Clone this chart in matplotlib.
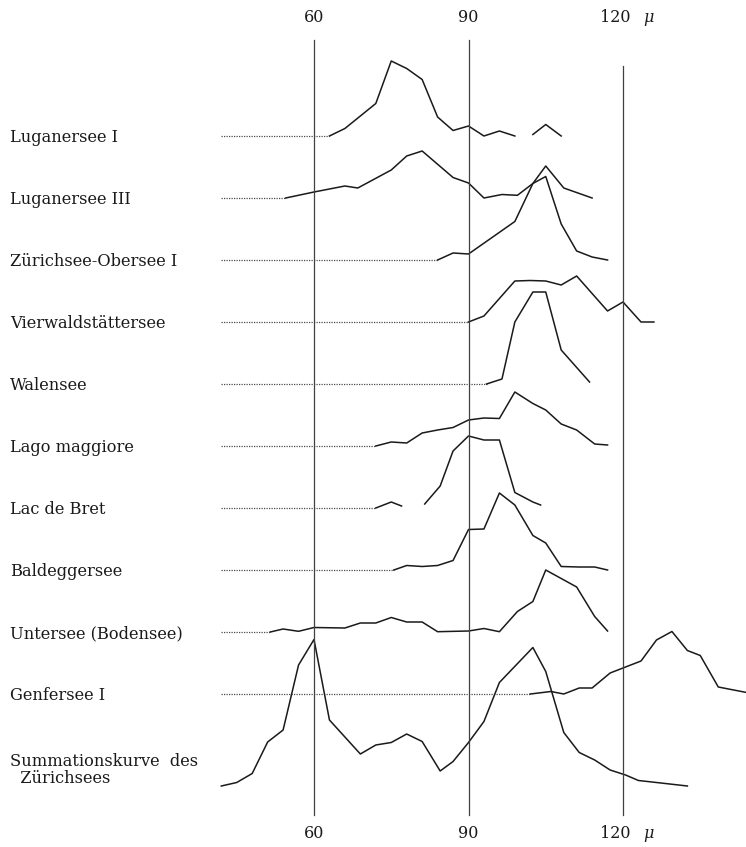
import numpy as np
import matplotlib
matplotlib.use("Agg")
import matplotlib.pyplot as plt
import matplotlib.transforms as mtransforms

########## data ###################################################################################
# x = Länge in mu, h = Häufigkeit (relative Höhe über der Nulllinie)

names = ["Luganersee I", "Luganersee III", "Zürichsee-Obersee I", "Vierwaldstättersee",
         "Walensee", "Lago maggiore", "Lac de Bret", "Baldeggersee", "Untersee (Bodensee)",
         "Genfersee I", "Summationskurve  des\n  Zürichsees"]

x_lug1 = [63, 66, 72, 75, 78, 81, 84, 87, 90, 93, 96, 99, np.nan, 102.5, 105, 108]
h_lug1 = [0, 7.5, 32.5, 75, 67.5, 56.5, 19, 5.5, 10, 0, 5, 0, np.nan, 1.5, 11.5, 0]

x_lug3 = [54.5, 60, 66, 68.5, 75, 78, 81, 87, 90, 93, 96.5, 99.5, 102.5, 105, 108.5, 114]
h_lug3 = [0, 6, 12, 10, 28, 42, 47, 20.5, 15, 0, 3.5, 2.7, 14.5, 32, 10, 0]

x_zob = [84, 87, 90, 99, 102.5, 105, 108, 111, 114, 117]
h_zob = [0, 7, 6, 38.5, 76.5, 83.5, 36, 9, 3, 0]

x_vws = [90, 93, 99, 102, 105, 108, 111, 117, 120, 123.5, 126]
h_vws = [0, 6, 41, 41.5, 41, 37, 46, 11, 20, 0, 0]

x_wal = [93.5, 96.5, 99, 102.5, 105, 108, 113.5]
h_wal = [0, 5, 62, 92, 92, 34, 2]

x_lmg = [72, 75, 78, 81, 84, 87, 90, 93, 96, 99, 102.5, 105, 108, 111, 114.5, 117]
h_lmg = [0, 4, 3, 13, 16, 18.5, 26, 28, 27.5, 54, 42.5, 36, 22, 16, 2, 1]

x_bret = [72, 75, 77, np.nan, 81.5, 84.5, 87, 90, 93, 96, 99, 102.5, 104]
h_bret = [0, 6, 2, np.nan, 4, 22, 57, 72, 68, 68, 15.5, 6, 3]

x_bal = [75.5, 78, 81, 84, 87, 90, 93, 96, 99, 102.5, 105, 108, 111.5, 114.5, 117]
h_bal = [0, 4.5, 3.5, 4.5, 9.5, 40.5, 41, 77, 65, 34.5, 27, 3.5, 3, 3, 0]

x_unt = [51.5, 54, 57, 60, 66, 69, 72, 75, 78, 81, 84, 90, 93, 96, 99.5, 102.5, 105, 108, 111, 114.5, 117]
h_unt = [0, 3, 0.7, 4.5, 4, 9, 9, 14.5, 10, 10, 0.3, 1, 3.5, 0.3, 20.5, 30.5, 62, 53.5, 45, 15.5, 1]

x_gen = [102, 106, 108.5, 111.5, 114, 117.5, 120.5, 123.5, 126.5, 129.5, 132.5, 135, 138.5, 144]
h_gen = [0, 2.5, 0, 6, 6, 21, 27, 33, 54, 62.5, 43.5, 38.5, 7, 1.5]

x_sum = [42, 45, 48, 51, 54, 57, 60, 63, 69, 72, 75, 78, 81, 84.5, 87, 90, 93, 96,
         102.5, 105, 108.5, 111.5, 114.5, 117.5, 120.5, 123, 126.5, 132.5]
h_sum = [0, 3.5, 12.5, 44, 56, 121, 146.5, 66, 32, 41, 43.5, 52, 44.5, 15, 24.5, 43.5, 64.5, 103.5,
         138.5, 114.5, 53.5, 33.5, 26, 16, 11, 5.5, 3.5, 0]

xs = [x_lug1, x_lug3, x_zob, x_vws, x_wal, x_lmg, x_bret, x_bal, x_unt, x_gen, x_sum]
hs = [h_lug1, h_lug3, h_zob, h_vws, h_wal, h_lmg, h_bret, h_bal, h_unt, h_gen, h_sum]

ticks = [60, 90, 120]
x_null = 42  # Beginn der punktierten Nulllinie

########## plot ####################################################################################

W, H = 746, 847
px_per_mu = 5.15
x_left = 60 - 314 / px_per_mu
x_right = 60 + (W - 314) / px_per_mu

fig = plt.figure(figsize=(W / 100, H / 100), dpi=100)
ax = fig.add_axes([0, 0, 1, 1])
ax.set_xlim(x_left, x_right)
ax.set_ylim(H, 0)  # y in Bildpunkten, nach unten
ax.axis("off")

serif = ["DejaVu Serif"]
trans = mtransforms.blended_transform_factory(ax.transAxes, ax.transData)

for i in range(len(names)):
    base = 136 + i * 62
    if i == len(names) - 1:
        base += 30
    x = np.array(xs[i], dtype=float)
    y = base - np.array(hs[i], dtype=float)
    # punktierte Nulllinie bis zum Kurvenanfang
    if i < len(names) - 1:
        ax.plot([x_null, x[0]], [base, base], color="0.3", lw=0.9, ls=(0, (1, 1.0)))
    ax.plot(x, y, color="0.1", lw=1.1)
    ax.text(10 / W, base + (2 if i < len(names) - 1 else -16), names[i], transform=trans,
            fontsize=11.7, family=serif, va="center", ha="left", color="0.1", linespacing=1.0)

# senkrechte Linien bei 60, 90, 120
for t in ticks:
    ytop = 40 if t < 120 else 66
    ax.plot([t, t], [ytop, 815], color="0.25", lw=0.9)

for yy in [17, 833]:
    for t in ticks:
        tx = t if t < 120 else t - 1.5
        ax.text(tx, yy, str(t), fontsize=11.5, family=serif, ha="center", va="center", color="0.1")
    ax.text(120 + 5.0, yy, "μ", fontsize=11.5, family=serif, style="italic", ha="center", va="center", color="0.1")

plt.savefig("out.png", dpi=100)
